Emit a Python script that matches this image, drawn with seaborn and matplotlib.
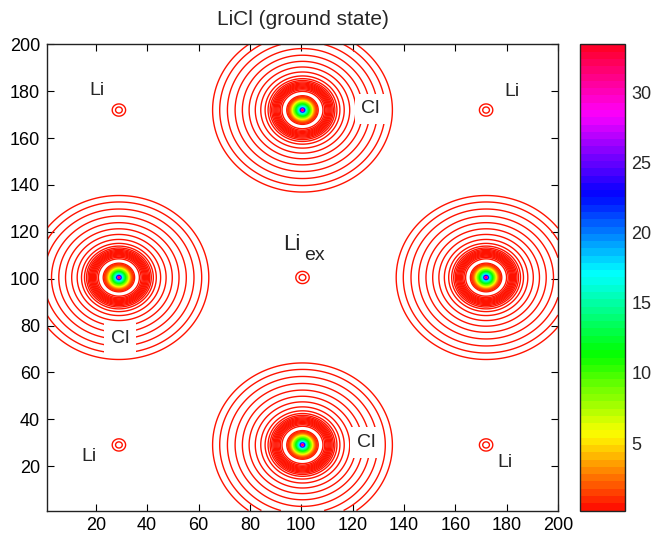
import numpy as np
import matplotlib
matplotlib.use("Agg")
import matplotlib.pyplot as plt
from matplotlib.colors import ListedColormap, Normalize
from matplotlib.cm import ScalarMappable
import seaborn as sns

# ---- lattice sites (grid units) ----
cl_x = [100.5, 29.0, 172.0, 100.5]
cl_y = [172.0, 100.5, 100.5, 29.0]
li_x = [29.0, 172.0, 29.0, 172.0, 100.5]
li_y = [172.0, 172.0, 29.0, 29.0, 100.5]

# ---- radial density model ----
cl_cusp_peak = 20.0      # nuclear cusp
cl_cusp_decay = 0.7
cl_core_peak = 13.0      # inner shells
cl_core_width = 3.8
cl_shell_height = 0.27   # valence shell plateau
cl_shell_radius = 8.8
cl_shell_width = 1.0
cl_tail_scale = 5.97     # diffuse outer tail
cl_tail_soft = 110.0
cl_tail_power = 2.14
cl_tail_cut = 44.0
li_peak = 0.00342
li_width = 4.77

# ---- contour levels and colour range ----
valence_levels = 0.22 * 0.8 ** np.arange(20, -1, -1)
core_levels = np.arange(0.5, 33.01, 0.25)
cbar_min, cbar_max = 0.2, 33.4
cbar_ticks = [5, 10, 15, 20, 25, 30]
axis_ticks = [20, 40, 60, 80, 100, 120, 140, 160, 180, 200]

sns.set_style("ticks")
plt.rcParams["font.family"] = ["Liberation Sans", "DejaVu Sans"]

g = np.arange(1.0, 200.001, 0.25)
X, Y = np.meshgrid(g, g)
rho = np.zeros_like(X)
for x0, y0 in zip(cl_x, cl_y):
    r = np.hypot(X - x0, Y - y0)
    rho += cl_cusp_peak * np.exp(-r / cl_cusp_decay)
    rho += cl_core_peak * np.exp(-(r / cl_core_width) ** 3)
    rho += cl_shell_height / (1.0 + np.exp((r - cl_shell_radius) / cl_shell_width))
    rho += (cl_tail_scale / (cl_tail_soft + r ** cl_tail_power)
            * np.exp(-(r / cl_tail_cut) ** 10))
for x0, y0 in zip(li_x, li_y):
    r = np.hypot(X - x0, Y - y0)
    rho += li_peak * np.exp(-(r / li_width) ** 2)

levels = np.concatenate([valence_levels, core_levels])
cmap = ListedColormap(sns.color_palette("hsv", 64))
norm = Normalize(vmin=cbar_min, vmax=cbar_max)

fig = plt.figure(figsize=(6.52, 5.34), dpi=100)
ax = fig.add_axes([0.0721, 0.044, 0.7837, 0.8727])
cax = fig.add_axes([0.8896, 0.044, 0.0683, 0.8727])

ax.contour(X, Y, rho, levels=levels, cmap=cmap, norm=norm, linewidths=1.0)
ax.set_xlim(1, 200)
ax.set_ylim(1, 200)
ax.set_xticks(axis_ticks)
ax.set_yticks(axis_ticks)
ax.tick_params(direction="in", top=True, right=True, length=5, width=0.8,
               labelsize=13, pad=5, colors="black")
for s in ax.spines.values():
    s.set_color("#222222")
    s.set_linewidth(1.0)
ax.set_title("LiCl (ground state)", fontsize=15, pad=14)

box = dict(boxstyle="square,pad=0.35", fc="white", ec="none")
for tx, ty in [(127.0, 172.5), (29.4, 74.5), (125.2, 30.1)]:
    ax.text(tx, ty, "Cl", fontsize=14, ha="center", va="center", bbox=box)
for tx, ty in [(20.5, 180.5), (182.0, 180.0), (17.5, 24.0), (179.5, 21.5)]:
    ax.text(tx, ty, "Li", fontsize=14, ha="center", va="center")
ax.text(96.3, 114.4, "Li", fontsize=16, ha="center", va="center")
ax.text(105.0, 110.0, "ex", fontsize=14, ha="center", va="center")

sm = ScalarMappable(norm=norm, cmap=cmap)
cb = fig.colorbar(sm, cax=cax, ticks=cbar_ticks)
cb.outline.set_edgecolor("#222222")
cb.outline.set_linewidth(1.0)
cax.tick_params(direction="in", left=True, right=True, length=4, width=0.8,
                labelsize=13, pad=5)

fig.savefig("out.png", dpi=100)
